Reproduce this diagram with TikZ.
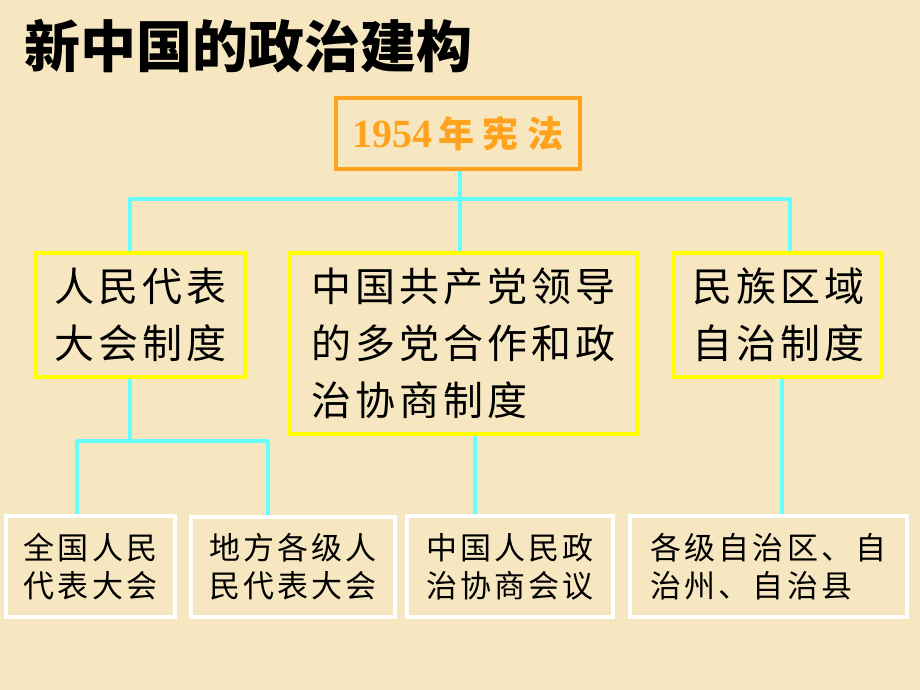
\documentclass[tikz,border=0pt]{standalone}
\usepackage{fontspec}
\setmainfont{Liberation Serif}
\newfontfamily\cjk{Noto Sans CJK SC}
\newfontfamily\cjkw[LetterSpace=10]{Noto Sans CJK SC}
\newfontfamily\cjko[LetterSpace=25]{Noto Sans CJK SC}
\definecolor{bg}{HTML}{F6E7C1}
\definecolor{ylw}{HTML}{FFFF00}
\definecolor{cyn}{HTML}{66FFFF}
\definecolor{org}{HTML}{FFA21E}
\tikzset{
  conn/.style={draw=cyn, line width=4pt, line join=round},
  topbox/.style={draw=org, line width=4pt, text=org, inner sep=0pt},
  midbox/.style={draw=ylw, line width=4pt, inner sep=0pt, font=\cjkw\fontsize{40pt}{57pt}\selectfont},
  lowbox/.style={draw=white, line width=4pt, inner sep=0pt, font=\cjkw\fontsize{31pt}{38pt}\selectfont},
}
\begin{document}
\begin{tikzpicture}[x=1pt,y=-1pt]
\fill[bg] (0,0) rectangle (920,690);
\useasboundingbox (0,0) rectangle (920,690);
\node[anchor=west, inner sep=0pt, font=\cjk\bfseries\fontsize{56pt}{60pt}\selectfont] (title) at (24,46) {新中国的政治建构};
\node[topbox, minimum width=244pt, minimum height=71pt] (top) at (458,133.5)
  {\fontsize{40pt}{40pt}\selectfont\bfseries 1954\hspace{6pt}\cjko\fontsize{36pt}{40pt}\selectfont 年宪法};
\node[midbox, minimum width=209pt, minimum height=124pt, align=center] (left) at (140.5,315) {人民代表\\大会制度};
\node[midbox, minimum width=347pt, minimum height=181pt, align=left] (mid) at (463.5,343.5) {中国共产党领导\\的多党合作和政\\治协商制度};
\node[midbox, minimum width=208pt, minimum height=124pt, align=center] (right) at (778,315) {民族区域\\自治制度};
\node[lowbox, minimum width=169pt, minimum height=101pt, align=center] (b1) at (90.5,566.5) {全国人民\\代表大会};
\node[lowbox, minimum width=204pt, minimum height=100pt, align=center] (b2) at (293,567) {地方各级人\\民代表大会};
\node[lowbox, minimum width=206pt, minimum height=101pt, align=center] (b3) at (510,566.5) {中国人民政\\治协商会议};
\node[lowbox, minimum width=277pt, minimum height=101pt, align=left] (b4) at (768.5,566.5) {各级自治区、自\\治州、自治县};
\coordinate (bar) at (460,199);
\coordinate (barl) at (130,441);
\draw[conn] ([xshift=2pt]top.south) -- ([xshift=2pt]top.south |- bar);
\draw[conn] ([xshift=-10.5pt]left.north) |- (bar) -| ([xshift=12pt]right.north);
\draw[conn] ([xshift=-3.5pt]mid.north) -- ([xshift=-3.5pt]mid.north |- bar);
\draw[conn] ([xshift=-10.5pt]left.south) -- (barl);
\draw[conn] ([xshift=-13.5pt]b1.north) |- (barl) -| ([xshift=-25pt]b2.north);
\draw[conn] ([xshift=11.5pt]mid.south) -- ([xshift=-35pt]b3.north);
\draw[conn] ([xshift=4pt]right.south) -- ([xshift=13.5pt]b4.north);
\end{tikzpicture}
\end{document}
